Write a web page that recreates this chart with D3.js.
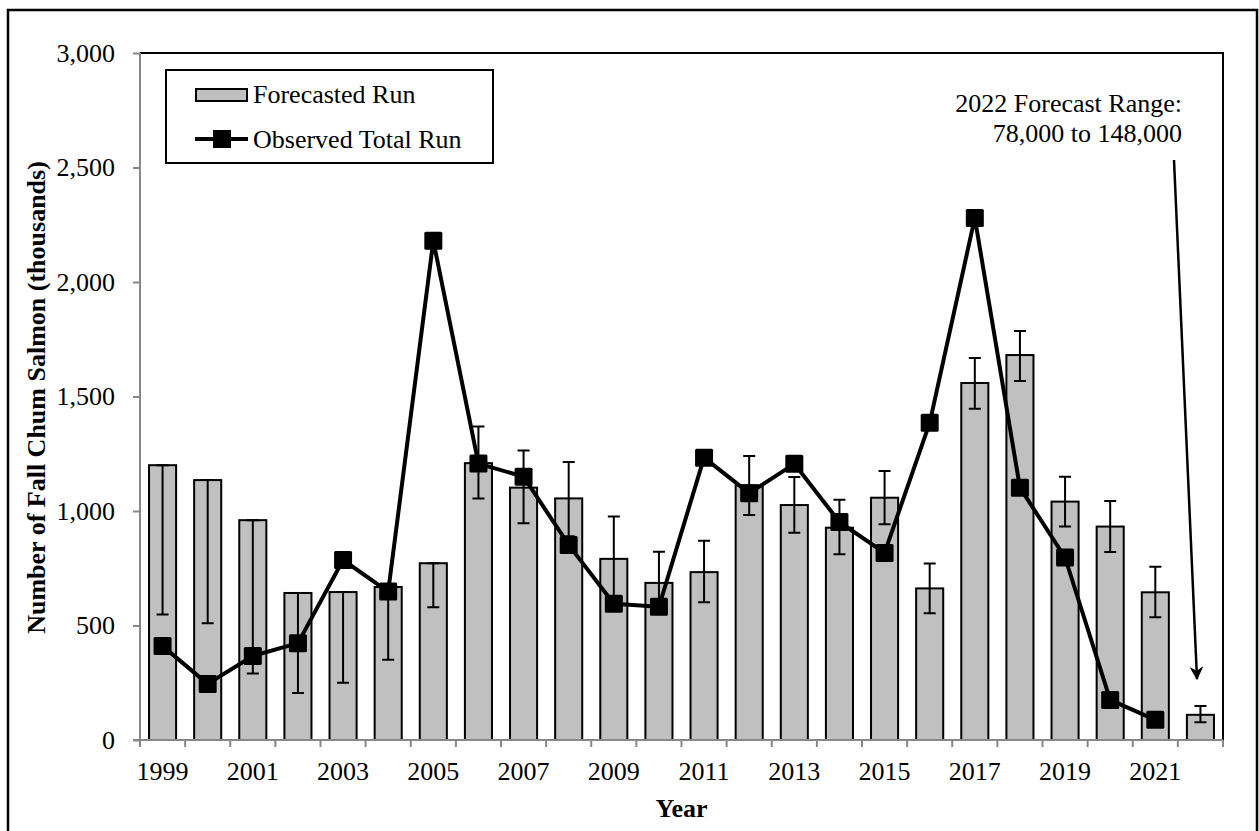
<!DOCTYPE html>
<html>
<head>
<meta charset="utf-8">
<script src="https://cdn.jsdelivr.net/npm/d3@7"></script>
<style>
  html, body { margin: 0; padding: 0; background: #fff; }
  svg { display: block; }
  text { font-family: "Liberation Serif", "Times New Roman", serif; fill: #000; }
</style>
</head>
<body>
<svg id="chart" width="1259" height="831"></svg>
<script>
// ---- data ----
const years = [1999,2000,2001,2002,2003,2004,2005,2006,2007,2008,2009,2010,2011,2012,2013,2014,2015,2016,2017,2018,2019,2020,2021,2022];
const forecast = [1200,1135,960,642,646,668,772,1209,1102,1055,791,686,733,1112,1026,927,1058,662,1559,1681,1041,932,645,110];
const forecastLow = [548,510,290,205,250,350,580,1055,947,890,600,580,602,982,905,811,942,553,1446,1568,932,821,536,78];
const forecastHigh = [1200,1135,960,642,646,668,772,1369,1264,1214,976,822,870,1240,1148,1049,1175,771,1668,1786,1150,1044,757,148];
const observed = [410,245,367,423,786,648,2180,1207,1150,852,595,582,1233,1078,1206,952,817,1385,2280,1102,797,175,88,null];
const yTicks = [0,500,1000,1500,2000,2500,3000];
const seriesNames = ["Forecasted Run","Observed Total Run"];
const annotation = ["2022 Forecast Range:", "78,000 to 148,000"];

// ---- layout ----
const svg = d3.select("#chart");
const L = 140, R = 1223, T = 53, B = 740;
const FS = 26;
const FF = "'Liberation Serif', 'Times New Roman', serif";

const x = d3.scaleBand().domain(years).range([L, R]).paddingInner(0.4).paddingOuter(0.2);
const xb = d3.scaleLinear().domain([0, years.length]).range([L, R]);
const y = d3.scaleLinear().domain([0, 3000]).range([B, T]);

// outer frame
svg.append("rect").attr("x", 8).attr("y", 10).attr("width", 1249).attr("height", 840)
  .attr("fill", "none").attr("stroke", "#000").attr("stroke-width", 2.5);

// plot top & right border
svg.append("path").attr("d", `M${L},${T}H${R}V${B}`).attr("fill", "none")
  .attr("stroke", "#000").attr("stroke-width", 2);

// bars
const data = years.map((d, i) => ({year: d, f: forecast[i], lo: forecastLow[i], hi: forecastHigh[i], o: observed[i]}));
svg.append("g").selectAll("rect").data(data).join("rect")
  .attr("x", d => x(d.year)).attr("width", x.bandwidth())
  .attr("y", d => y(d.f)).attr("height", d => y(0) - y(d.f))
  .attr("fill", "#c0c0c0").attr("stroke", "#000").attr("stroke-width", 2);

// error bars
const cx = d => x(d.year) + x.bandwidth() / 2;
const eb = svg.append("g").attr("stroke", "#000").attr("stroke-width", 2).attr("fill", "none");
eb.selectAll("path").data(data).join("path")
  .attr("d", d => `M${cx(d)},${y(d.hi)}V${y(d.lo)}M${cx(d)-6},${y(d.hi)}h12M${cx(d)-6},${y(d.lo)}h12`);

// axes
const yAxis = svg.append("g").attr("transform", `translate(${L},0)`)
  .call(d3.axisLeft(y).tickValues(yTicks).tickFormat(d3.format(",")).tickSize(7).tickPadding(18));
yAxis.attr("font-family", null).attr("font-size", null);
yAxis.select(".domain").attr("stroke", "#888").attr("stroke-width", 2).attr("d", `M-7,${B}H0V${T}`);
yAxis.selectAll(".tick line").attr("stroke", "#888").attr("stroke-width", 2);
yAxis.selectAll("text").style("font-size", FS + "px").style("font-family", FF);

const xAxis = svg.append("g").attr("transform", `translate(0,${B})`)
  .call(d3.axisBottom(x).tickSize(0).tickPadding(22).tickFormat(d => (d - 1999) % 2 === 0 ? d : ""));
xAxis.attr("font-family", null).attr("font-size", null);
xAxis.select(".domain").attr("stroke", "#888").attr("stroke-width", 2).attr("d", `M${L},0H${R}`);
xAxis.selectAll("text").style("font-size", FS + "px").style("font-family", FF);
svg.append("g").attr("stroke", "#888").attr("stroke-width", 2).selectAll("line")
  .data(d3.range(years.length + 1)).join("line")
  .attr("x1", i => xb(i)).attr("x2", i => xb(i)).attr("y1", B).attr("y2", B + 7);

// observed line
const obs = data.filter(d => d.o != null);
svg.append("path").datum(obs)
  .attr("d", d3.line().x(cx).y(d => y(d.o)))
  .attr("fill", "none").attr("stroke", "#000").attr("stroke-width", 4).attr("stroke-linejoin", "round");
svg.append("g").selectAll("rect").data(obs).join("rect")
  .attr("x", d => cx(d) - 9).attr("y", d => y(d.o) - 9).attr("width", 18).attr("height", 18)
  .attr("fill", "#000").attr("rx", 1.5);

// axis titles
svg.append("text").attr("x", (L + R) / 2).attr("y", 817).attr("text-anchor", "middle")
  .style("font-size", FS + "px").attr("font-weight", "bold").text("Year");
svg.append("text").attr("transform", `translate(45,${(162 + 633) / 2}) rotate(-90)`)
  .attr("text-anchor", "middle").style("font-size", FS + "px").attr("font-weight", "bold")
  .text("Number of Fall Chum Salmon (thousands)");

// legend
const lg = svg.append("g");
lg.append("rect").attr("x", 166).attr("y", 70).attr("width", 327).attr("height", 93)
  .attr("fill", "#fff").attr("stroke", "#000").attr("stroke-width", 2);
lg.append("rect").attr("x", 196).attr("y", 89).attr("width", 51).attr("height", 12)
  .attr("fill", "#c0c0c0").attr("stroke", "#000").attr("stroke-width", 2);
lg.append("text").attr("x", 253).attr("y", 103).style("font-size", FS + "px").text(seriesNames[0]);
lg.append("line").attr("x1", 195).attr("x2", 248).attr("y1", 139).attr("y2", 139)
  .attr("stroke", "#000").attr("stroke-width", 4);
lg.append("rect").attr("x", 213).attr("y", 130).attr("width", 18).attr("height", 18).attr("fill", "#000");
lg.append("text").attr("x", 253).attr("y", 148).style("font-size", FS + "px").text(seriesNames[1]);

// annotation
svg.append("text").attr("x", 1182).attr("y", 112).attr("text-anchor", "end").style("font-size", FS + "px").text(annotation[0]);
svg.append("text").attr("x", 1182).attr("y", 142).attr("text-anchor", "end").style("font-size", FS + "px").text(annotation[1]);
svg.append("defs").append("marker").attr("id", "arr").attr("viewBox", "0 0 10 10")
  .attr("refX", 9).attr("refY", 5).attr("markerWidth", 5.5).attr("markerHeight", 5.5)
  .attr("markerUnits", "strokeWidth").attr("orient", "auto")
  .append("path").attr("d", "M0,0L10,5L0,10L3,5Z").attr("fill", "#000");
svg.append("line").attr("x1", 1174).attr("y1", 160).attr("x2", 1197).attr("y2", 679)
  .attr("stroke", "#000").attr("stroke-width", 2.5).attr("marker-end", "url(#arr)");
</script>
</body>
</html>
